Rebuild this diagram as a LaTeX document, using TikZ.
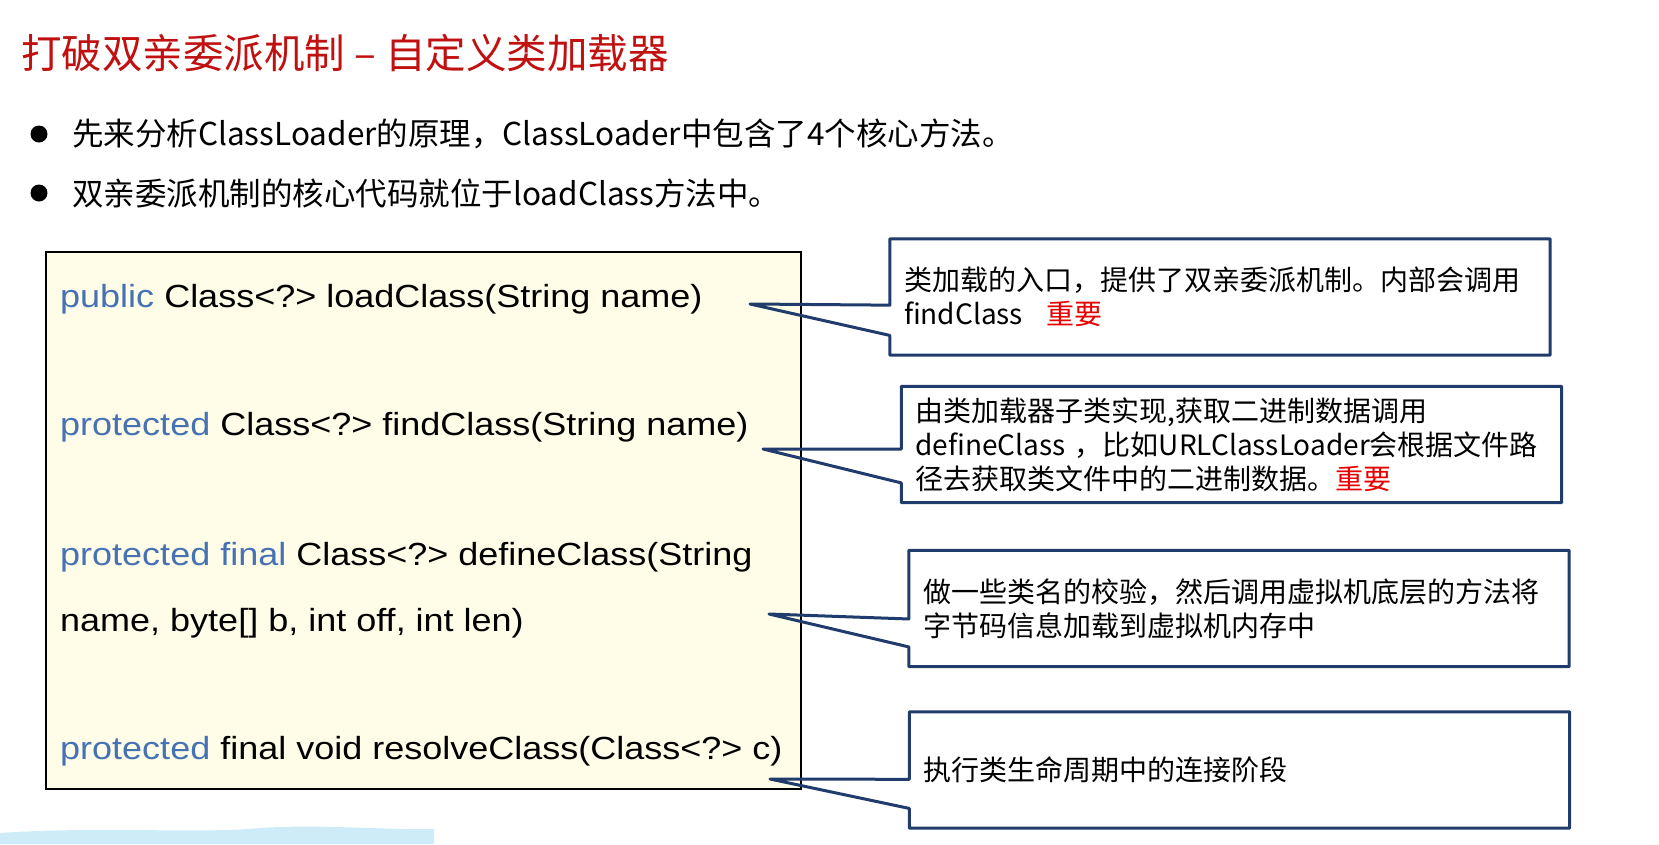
\documentclass[tikz,border=0pt]{standalone}
\usepackage{fontspec}
\setmainfont{Noto Sans CJK SC}
\newfontfamily\codefont[FakeStretch=1.125]{Liberation Sans}
\usepackage{xcolor}
\usepackage{tikz}
\usetikzlibrary{calc}
\definecolor{titleCol}{RGB}{192,16,16}
\definecolor{impCol}{RGB}{230,0,0}
\definecolor{noteCol}{RGB}{32,60,108}
\definecolor{codeBg}{RGB}{255,253,232}
\definecolor{kwCol}{RGB}{70,114,180}
\definecolor{stripCol}{RGB}{205,236,248}
\tikzset{
  heading/.style={anchor=west, inner sep=0pt, text=titleCol,
                  font=\fontsize{40.5}{48}\selectfont},
  bullet/.style={circle, fill=black, inner sep=0pt, minimum size=17pt},
  pointtext/.style={anchor=west, inner sep=0pt, font=\fontsize{31.5}{38}\selectfont},
  codebox/.style={draw=black, line width=1.5pt, fill=codeBg, inner sep=0pt,
                  minimum width=755pt, minimum height=537pt},
  codeline/.style={anchor=west, inner sep=0pt, align=left,
                   font=\codefont\fontsize{32}{66}\selectfont},
  note/.style={fill=white, inner xsep=14pt, inner ysep=0pt, align=left,
               text width=632pt, minimum height=116pt,
               font=\fontsize{28}{34}\selectfont},
  noteline/.style={draw=noteCol, line width=3pt, line join=round},
}

\begin{document}
\begin{tikzpicture}[x=1pt,y=-1pt]
  \useasboundingbox (0,0) rectangle (1659,844);
  % heading and bullet points
  \node[heading] (title) at (21,53) {打破双亲委派机制 – 自定义类加载器};
  \node[bullet] (b1) at (39,134) {};
  \node[pointtext] (p1) at (72,134) {先来分析ClassLoader的原理，ClassLoader中包含了4个核心方法。};
  \node[bullet] (b2) at (39,193) {};
  \node[pointtext] (p2) at (72,193) {双亲委派机制的核心代码就位于loadClass方法中。};

  % the four methods
  \node[codebox] (code) at (423.25,520.5) {};
  \node[codeline] (lLoad) at (60,299) {\textcolor{kwCol}{public} Class<?> loadClass(String name)};
  \node[codeline] (lFind) at (60,427) {\textcolor{kwCol}{protected} Class<?> findClass(String name)};
  \node[codeline] (lDefine) at (60,590) {\textcolor{kwCol}{protected final} Class<?> defineClass(String\\name, byte[] b, int off, int len)};
  \node[codeline] (lResolve) at (60,751) {\textcolor{kwCol}{protected} final void resolveClass(Class<?> c)};

  % notes
  \node[note] (nLoad) at (1220,297) {类加载的入口，提供了双亲委派机制。内部会调用\\findClass\hspace{0.85em}\textcolor{impCol}{重要}};
  \node[note] (nFind) at (1231.5,444.5) {由类加载器子类实现,获取二进制数据调用\\defineClass ，比如URLClassLoader会根据文件路\\径去获取类文件中的二进制数据。\textcolor{impCol}{重要}};
  \node[note] (nDefine) at (1239,608.5) {做一些类名的校验，然后调用虚拟机底层的方法将\\字节码信息加载到虚拟机内存中};
  \node[note] (nResolve) at (1239.5,770) {执行类生命周期中的连接阶段};

  % pointer tips
  \coordinate (tLoad) at (750,304);
  \coordinate (tFind) at (763,449);
  \coordinate (tDefine) at (769,614);
  \coordinate (tResolve) at (770,779);

  % callout outlines
  \draw[noteline] (nLoad.north west) -- (nLoad.north east) -- (nLoad.south east) -- (nLoad.south west)
    -- ($(nLoad.north west)!0.83!(nLoad.south west)$) -- (tLoad) -- ($(nLoad.north west)!0.57!(nLoad.south west)$) -- cycle;
  \draw[noteline] (nFind.north west) -- (nFind.north east) -- (nFind.south east) -- (nFind.south west)
    -- ($(nFind.north west)!0.83!(nFind.south west)$) -- (tFind) -- ($(nFind.north west)!0.54!(nFind.south west)$) -- cycle;
  \draw[noteline] (nDefine.north west) -- (nDefine.north east) -- (nDefine.south east) -- (nDefine.south west)
    -- ($(nDefine.north west)!0.83!(nDefine.south west)$) -- (tDefine) -- ($(nDefine.north west)!0.59!(nDefine.south west)$) -- cycle;
  \draw[noteline] (nResolve.north west) -- (nResolve.north east) -- (nResolve.south east) -- (nResolve.south west)
    -- ($(nResolve.north west)!0.83!(nResolve.south west)$) -- (tResolve) -- ($(nResolve.north west)!0.58!(nResolve.south west)$) -- cycle;

  % pale strip at the bottom
  \fill[stripCol] (0,833) .. controls (100,826) and (200,834) .. (260,828)
    .. controls (320,824) and (380,830) .. (434,829) -- (434,844) -- (0,844) -- cycle;
\end{tikzpicture}
\end{document}
